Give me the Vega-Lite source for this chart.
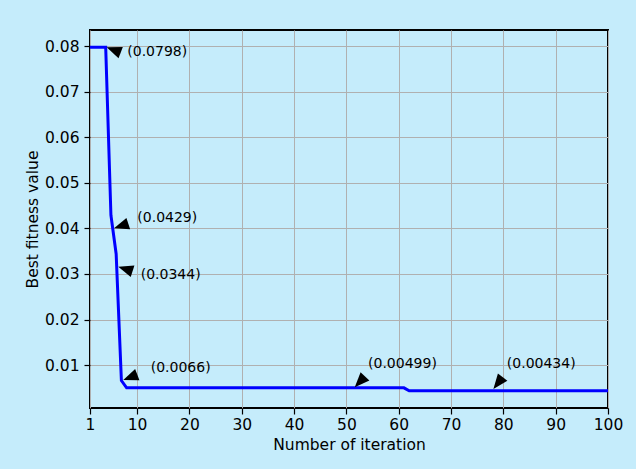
{
  "$schema": "https://vega.github.io/schema/vega-lite/v6.json",
  "width": 518,
  "height": 378,
  "autosize": {"type": "none"},
  "padding": {"left": 90, "top": 30, "right": 28, "bottom": 61},
  "background": "#c5ecfb",
  "config": {
    "font": "DejaVu Sans",
    "view": {"stroke": "black", "strokeWidth": 2, "fill": "#c5ecfb"},
    "axis": {
      "domain": false,
      "grid": true,
      "gridColor": "#b0b0b0",
      "gridWidth": 1,
      "tickColor": "black",
      "tickSize": 6,
      "tickWidth": 1.2,
      "labelColor": "black",
      "labelFont": "DejaVu Sans",
      "labelFontSize": 15.5,
      "labelFlush": false,
      "labelOverlap": false,
      "titleFont": "DejaVu Sans",
      "titleFontSize": 15.5,
      "titleFontWeight": "normal",
      "titleColor": "black"
    },
    "axisX": {"labelPadding": 3, "titlePadding": 5},
    "axisY": {"labelPadding": 5, "titlePadding": 4}
  },
  "encoding": {
    "x": {
      "field": "x",
      "type": "quantitative",
      "scale": {"domain": [1, 100], "nice": false, "zero": false},
      "axis": {"values": [1, 10, 20, 30, 40, 50, 60, 70, 80, 90, 100], "title": "Number of iteration"}
    },
    "y": {
      "field": "v",
      "type": "quantitative",
      "scale": {"domain": [0.000567, 0.083573], "nice": false, "zero": false},
      "axis": {"values": [0.01, 0.02, 0.03, 0.04, 0.05, 0.06, 0.07, 0.08], "format": ".2f", "title": "Best fitness value"}
    }
  },
  "layer": [
    {
      "data": {"values": [
        {"x": 1, "v": 0.0798},
        {"x": 4, "v": 0.0798},
        {"x": 5, "v": 0.0429},
        {"x": 6, "v": 0.0344},
        {"x": 7, "v": 0.0066},
        {"x": 8, "v": 0.00499},
        {"x": 61, "v": 0.00499},
        {"x": 62, "v": 0.00434},
        {"x": 100, "v": 0.00434}
      ]},
      "mark": {"type": "line", "color": "#0000ff", "strokeWidth": 3}
    },
    {
      "data": {"values": [{"x": 4.19, "v": 0.0798, "label": "(0.0798)"}]},
      "layer": [
        {"mark": {"type": "point", "shape": "M0,0L1,-0.4L1,0.4Z", "size": 900, "filled": true, "color": "black", "opacity": 1, "strokeWidth": 0, "angle": 21}},
        {"mark": {"type": "text", "align": "left", "baseline": "middle", "dx": 20.6, "dy": 5.1, "fontSize": 14, "color": "black"}, "encoding": {"text": {"field": "label"}}}
      ]
    },
    {
      "data": {"values": [{"x": 5.59, "v": 0.04003, "label": "(0.0429)"}]},
      "layer": [
        {"mark": {"type": "point", "shape": "M0,0L1,-0.4L1,0.4Z", "size": 900, "filled": true, "color": "black", "opacity": 1, "strokeWidth": 0, "angle": -18}},
        {"mark": {"type": "text", "align": "left", "baseline": "middle", "dx": 23.3, "dy": -10, "fontSize": 14, "color": "black"}, "encoding": {"text": {"field": "label"}}}
      ]
    },
    {
      "data": {"values": [{"x": 6.41, "v": 0.0316, "label": "(0.0344)"}]},
      "layer": [
        {"mark": {"type": "point", "shape": "M0,0L1,-0.4L1,0.4Z", "size": 900, "filled": true, "color": "black", "opacity": 1, "strokeWidth": 0, "angle": 18}},
        {"mark": {"type": "text", "align": "left", "baseline": "middle", "dx": 22.4, "dy": 8.3, "fontSize": 14, "color": "black"}, "encoding": {"text": {"field": "label"}}}
      ]
    },
    {
      "data": {"values": [{"x": 7.36, "v": 0.0067, "label": "(0.0066)"}]},
      "layer": [
        {"mark": {"type": "point", "shape": "M0,0L1,-0.4L1,0.4Z", "size": 900, "filled": true, "color": "black", "opacity": 1, "strokeWidth": 0, "angle": -21}},
        {"mark": {"type": "text", "align": "left", "baseline": "middle", "dx": 27.4, "dy": -12.3, "fontSize": 14, "color": "black"}, "encoding": {"text": {"field": "label"}}}
      ]
    },
    {
      "data": {"values": [{"x": 51.6, "v": 0.0051, "label": "(0.00499)"}]},
      "layer": [
        {"mark": {"type": "point", "shape": "M0,0L1,-0.4L1,0.4Z", "size": 900, "filled": true, "color": "black", "opacity": 1, "strokeWidth": 0, "angle": -47}},
        {"mark": {"type": "text", "align": "left", "baseline": "middle", "dx": 13.3, "dy": -23.3, "fontSize": 14, "color": "black"}, "encoding": {"text": {"field": "label"}}}
      ]
    },
    {
      "data": {"values": [{"x": 78.1, "v": 0.00474, "label": "(0.00434)"}]},
      "layer": [
        {"mark": {"type": "point", "shape": "M0,0L1,-0.4L1,0.4Z", "size": 900, "filled": true, "color": "black", "opacity": 1, "strokeWidth": 0, "angle": -52}},
        {"mark": {"type": "text", "align": "left", "baseline": "middle", "dx": 13.4, "dy": -25, "fontSize": 14, "color": "black"}, "encoding": {"text": {"field": "label"}}}
      ]
    }
  ]
}
